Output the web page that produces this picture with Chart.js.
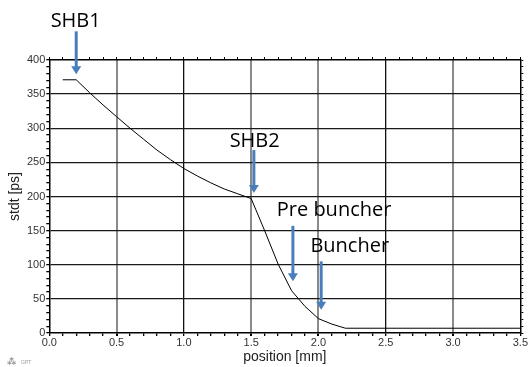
<!DOCTYPE html>
<html>
<head>
<meta charset="utf-8">
<script src="https://cdn.jsdelivr.net/npm/chart.js@4/dist/chart.umd.min.js"></script>
<style>
html,body{margin:0;padding:0;background:#fff;}
#wrap{position:relative;width:528px;height:367px;}
</style>
</head>
<body>
<div id="wrap"><canvas id="c" width="528" height="367"></canvas></div>
<script>
// ---- data ----
const positions = [0.1, 0.2, 0.3, 0.4, 0.5, 0.6, 0.7, 0.8, 0.9, 1.0, 1.1, 1.2, 1.3, 1.4, 1.5, 1.6, 1.7, 1.8, 1.9, 2.0, 2.1, 2.2, 3.5];
const stdtValues = [371, 371, 352, 334, 317, 300, 284, 268, 254, 241, 230, 220, 211, 204, 197, 150, 101, 62, 39, 21, 13, 7, 7];
const xTickLabels = ['0.0', '0.5', '1.0', '1.5', '2.0', '2.5', '3.0', '3.5'];
const yTickLabels = ['0', '50', '100', '150', '200', '250', '300', '350', '400'];
// annotations: label, text left x, text baseline y, arrow x, arrow top y, arrow tip y (data units)
const annLabels = ['SHB1', 'SHB2', 'Pre buncher', 'Buncher'];
const annTextX = [0.01, 1.34, 1.69, 1.94];
const annTextY = [448, 272, 171, 119];
const annArrowX = [0.2, 1.52, 1.81, 2.02];
const annArrowTop = [442, 268, 157, 105];
const annArrowTip = [379, 205, 76, 34];

const isMajor = (v, step) => Math.abs(v / step - Math.round(v / step)) < 1e-6;
const grayV = [0.5, 1.5, 2.0, 3.0];

const annotationPlugin = {
  id: 'arrows',
  afterDraw(chart) {
    const ctx = chart.ctx, xs = chart.scales.x, ys = chart.scales.y;
    ctx.save();
    ctx.font = '20px "Open Sans"';
    ctx.fillStyle = '#000';
    ctx.textBaseline = 'alphabetic';
    ctx.textAlign = 'left';
    for (let i = 0; i < annLabels.length; i++) {
      ctx.fillStyle = '#000';
      ctx.fillText(annLabels[i], xs.getPixelForValue(annTextX[i]), ys.getPixelForValue(annTextY[i]));
      const ax = xs.getPixelForValue(annArrowX[i]);
      const top = ys.getPixelForValue(annArrowTop[i]);
      const tip = ys.getPixelForValue(annArrowTip[i]);
      ctx.strokeStyle = '#4A7EBB';
      ctx.fillStyle = '#4A7EBB';
      ctx.lineWidth = 3;
      ctx.beginPath();
      ctx.moveTo(ax, top);
      ctx.lineTo(ax, tip - 6);
      ctx.stroke();
      ctx.beginPath();
      ctx.moveTo(ax - 5, tip - 8);
      ctx.lineTo(ax + 5, tip - 8);
      ctx.lineTo(ax, tip);
      ctx.closePath();
      ctx.fill();
    }
    // small logo text
    ctx.font = 'bold 9px "DejaVu Sans"';
    ctx.fillStyle = '#999';
    ctx.fillText('⁂', 7, 365);
    ctx.font = '5px "Liberation Sans"';
    ctx.fillText('GPT', 21, 364);
    ctx.restore();
  }
};

const tickFont = {family: '"Liberation Sans", Arial', size: 11};
const tickColor = '#333';

new Chart(document.getElementById('c'), {
  type: 'line',
  data: {
    datasets: [{
      data: positions.map((p, i) => ({x: p, y: stdtValues[i]})),
      borderColor: '#000',
      borderWidth: 1,
      pointRadius: 0,
      tension: 0,
      fill: false
    }]
  },
  options: {
    responsive: false,
    animation: false,
    layout: {padding: 0},
    plugins: {legend: {display: false}, tooltip: {enabled: false}},
    scales: {
      x: {
        type: 'linear', position: 'bottom', min: 0, max: 3.5,
        afterFit(s) { s.height = 34; },
        afterBuildTicks(s) { const t = []; for (let i = 0; i <= 35; i++) t.push({value: i / 10}); s.ticks = t; },
        ticks: {
          autoSkip: false, maxRotation: 0, padding: 0, color: tickColor, font: tickFont,
          callback: (v) => isMajor(v, 0.5) ? xTickLabels[Math.round(v / 0.5)] : ''
        },
        grid: {
          tickLength: 3,
          tickColor: '#000',
          color: (c) => {
            const v = c.tick.value;
            if (!isMajor(v, 0.5) || v === 0 || v === 3.5) return 'rgba(0,0,0,0)';
            return grayV.some(g => Math.abs(g - v) < 1e-6) ? '#8a8a8a' : '#111';
          },
          lineWidth: (c) => {
            const v = c.tick.value;
            return grayV.some(g => Math.abs(g - v) < 1e-6) ? 2 : 1.3;
          }
        },
        border: {color: '#000', width: 1.5},
        title: {display: true, text: 'position [mm]', color: '#222',
          font: {family: '"Liberation Sans", Arial', size: 14}, padding: {top: 0, bottom: 1}}
      },
      x2: {
        type: 'linear', position: 'top', min: 0, max: 3.5,
        afterFit(s) { s.height = 60; },
        afterBuildTicks(s) { const t = []; for (let i = 0; i <= 35; i++) t.push({value: i / 10}); s.ticks = t; },
        ticks: {display: false},
        grid: {drawOnChartArea: false, tickLength: 3, tickColor: '#000'},
        border: {color: '#000', width: 1.5}
      },
      y: {
        type: 'linear', position: 'left', min: 0, max: 400,
        afterFit(s) { s.width = 49.3; },
        afterBuildTicks(s) { const t = []; for (let i = 0; i <= 40; i++) t.push({value: i * 10}); s.ticks = t; },
        ticks: {
          autoSkip: false, padding: 1, color: tickColor, font: tickFont,
          callback: (v) => isMajor(v, 50) ? yTickLabels[Math.round(v / 50)] : ''
        },
        grid: {
          tickLength: 3,
          tickColor: '#000',
          color: (c) => {
            const v = c.tick.value;
            if (!isMajor(v, 50) || v === 0 || v === 400) return 'rgba(0,0,0,0)';
            return '#1a1a1a';
          },
          lineWidth: 1.3
        },
        border: {color: '#000', width: 1.5},
        title: {display: true, text: 'stdt [ps]', color: '#222',
          font: {family: '"Liberation Sans", Arial', size: 14}, padding: {top: 6.6, bottom: 0}}
      },
      y2: {
        type: 'linear', position: 'right', min: 0, max: 400,
        afterFit(s) { s.width = 6; },
        afterBuildTicks(s) { const t = []; for (let i = 0; i <= 40; i++) t.push({value: i * 10}); s.ticks = t; },
        ticks: {display: false},
        grid: {drawOnChartArea: false, tickLength: 3, tickColor: '#000'},
        border: {color: '#000', width: 1.5}
      }
    }
  },
  plugins: [annotationPlugin]
});
</script>
</body>
</html>
